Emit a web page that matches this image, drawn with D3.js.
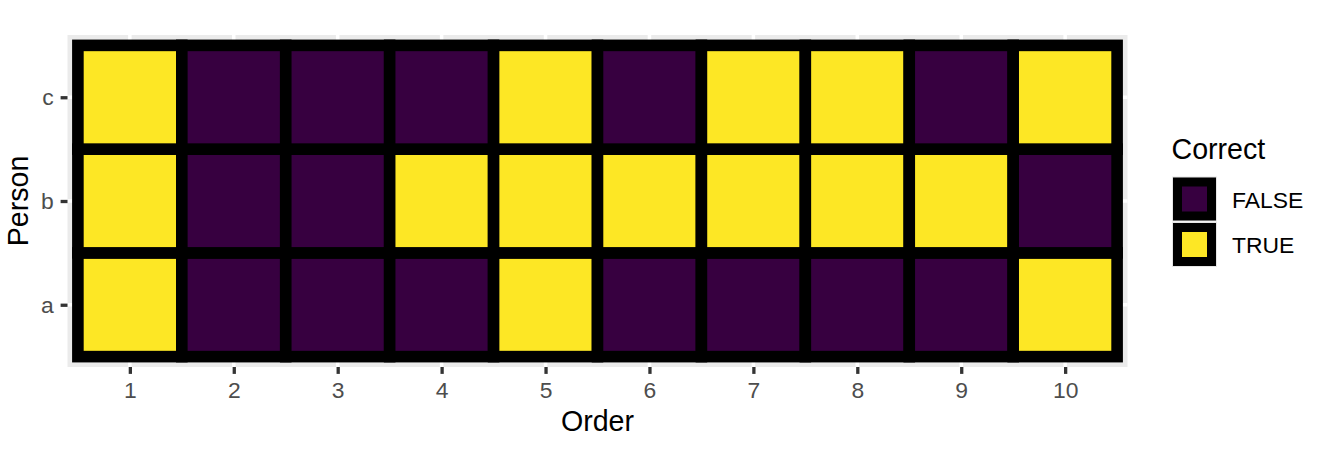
<!DOCTYPE html>
<html>
<head>
<meta charset="utf-8">
<script src="https://cdn.jsdelivr.net/npm/d3@7"></script>
<style>
  html, body { margin: 0; padding: 0; background: #fff; }
  svg { display: block; font-family: "Liberation Sans", Arial, Helvetica, sans-serif; }
</style>
</head>
<body>
<svg id="chart" width="1326" height="455"></svg>
<script>
// ---- data ----
const orders = [1, 2, 3, 4, 5, 6, 7, 8, 9, 10];
const persons = ["a", "b", "c"];
const correctA = [true, false, false, false, true, false, false, false, false, true];
const correctB = [true, false, false, true, true, true, true, true, true, false];
const correctC = [true, false, false, false, true, false, true, true, false, true];
const legendLevels = ["FALSE", "TRUE"];
const xTitle = "Order";
const yTitle = "Person";
const legendTitle = "Correct";

// ---- build long table ----
const rows = { a: correctA, b: correctB, c: correctC };
const tiles = [];
persons.forEach(p => orders.forEach((o, i) => tiles.push({ person: p, order: o, correct: rows[p][i] })));

// ---- layout ----
const svg = d3.select("#chart");
const panel = { left: 67.5, right: 1127.5, top: 35, bottom: 367 };
const x = d3.scaleLinear().domain([0.4, 10.6]).range([panel.left, panel.right]);
const yIdx = d3.scaleOrdinal().domain(persons).range([1, 2, 3]);
const y = d3.scaleLinear().domain([0.4, 3.6]).range([panel.bottom, panel.top]);
const fill = d3.scaleOrdinal().domain([false, true]).range(["#370040", "#FDE725"]);
const smallFont = 22.9, titleFont = 28.6;

// panel background
svg.append("rect")
  .attr("x", panel.left).attr("y", panel.top)
  .attr("width", panel.right - panel.left).attr("height", panel.bottom - panel.top)
  .attr("fill", "#EBEBEB");

// gridlines
svg.append("g").selectAll("line").data(orders).join("line")
  .attr("x1", d => x(d)).attr("x2", d => x(d))
  .attr("y1", panel.top).attr("y2", panel.bottom)
  .attr("stroke", "#fff").attr("stroke-width", 3.5);
svg.append("g").selectAll("line").data(persons).join("line")
  .attr("y1", d => y(yIdx(d))).attr("y2", d => y(yIdx(d)))
  .attr("x1", panel.left).attr("x2", panel.right)
  .attr("stroke", "#fff").attr("stroke-width", 3.5);

// tiles
svg.append("g").selectAll("rect").data(tiles).join("rect")
  .attr("x", d => x(d.order - 0.5))
  .attr("y", d => y(yIdx(d.person) + 0.5))
  .attr("width", d => x(d.order + 0.5) - x(d.order - 0.5))
  .attr("height", d => y(yIdx(d.person) - 0.5) - y(yIdx(d.person) + 0.5))
  .attr("fill", d => fill(d.correct))
  .attr("stroke", "#000")
  .attr("stroke-width", 11.6);

// x axis
const xAxis = svg.append("g")
  .attr("transform", `translate(0,${panel.bottom})`)
  .call(d3.axisBottom(x).tickValues(orders).tickFormat(d3.format("d")).tickSize(6.9).tickPadding(8));
xAxis.select(".domain").remove();
xAxis.selectAll(".tick line").attr("stroke", "#333333").attr("stroke-width", 3.3);
xAxis.selectAll(".tick text").attr("fill", "#4D4D4D").attr("font-size", smallFont)
  .attr("font-family", "Liberation Sans, Arial, sans-serif");

// y axis
const yAxisScale = d3.scalePoint().domain(persons).range([y(1), y(3)]);
const yAxis = svg.append("g")
  .attr("transform", `translate(${panel.left},0)`)
  .call(d3.axisLeft(yAxisScale).tickSize(6.9).tickPadding(7));
yAxis.select(".domain").remove();
yAxis.selectAll(".tick line").attr("stroke", "#333333").attr("stroke-width", 3.3);
yAxis.selectAll(".tick text").attr("fill", "#4D4D4D").attr("font-size", smallFont)
  .attr("font-family", "Liberation Sans, Arial, sans-serif");

// axis titles
svg.append("text")
  .attr("x", (panel.left + panel.right) / 2).attr("y", 430.5)
  .attr("text-anchor", "middle").attr("font-size", titleFont).attr("fill", "#000")
  .text(xTitle);
svg.append("text")
  .attr("transform", `translate(27.5,${(panel.top + panel.bottom) / 2}) rotate(-90)`)
  .attr("text-anchor", "middle").attr("font-size", titleFont).attr("fill", "#000")
  .text(yTitle);

// legend
const lg = svg.append("g");
lg.append("text").attr("x", 1171.5).attr("y", 159).attr("font-size", titleFont).attr("fill", "#000").text(legendTitle);
const keyTop = 176.5, keyH = 45.5, keyX = 1172;
legendLevels.forEach((lab, i) => {
  const ky = keyTop + i * keyH;
  lg.append("rect").attr("x", keyX).attr("y", ky).attr("width", 45).attr("height", 45).attr("fill", "#E6E6E6");
  lg.append("rect").attr("x", keyX + 1).attr("y", ky + 1).attr("width", 43).attr("height", 43).attr("fill", "#000");
  lg.append("rect").attr("x", keyX + 10).attr("y", ky + 10).attr("width", 25).attr("height", 25)
    .attr("fill", fill(lab === "TRUE"));
  lg.append("text").attr("x", 1232).attr("y", ky + 31).attr("font-size", smallFont).attr("fill", "#000").text(lab);
});
</script>
</body>
</html>
